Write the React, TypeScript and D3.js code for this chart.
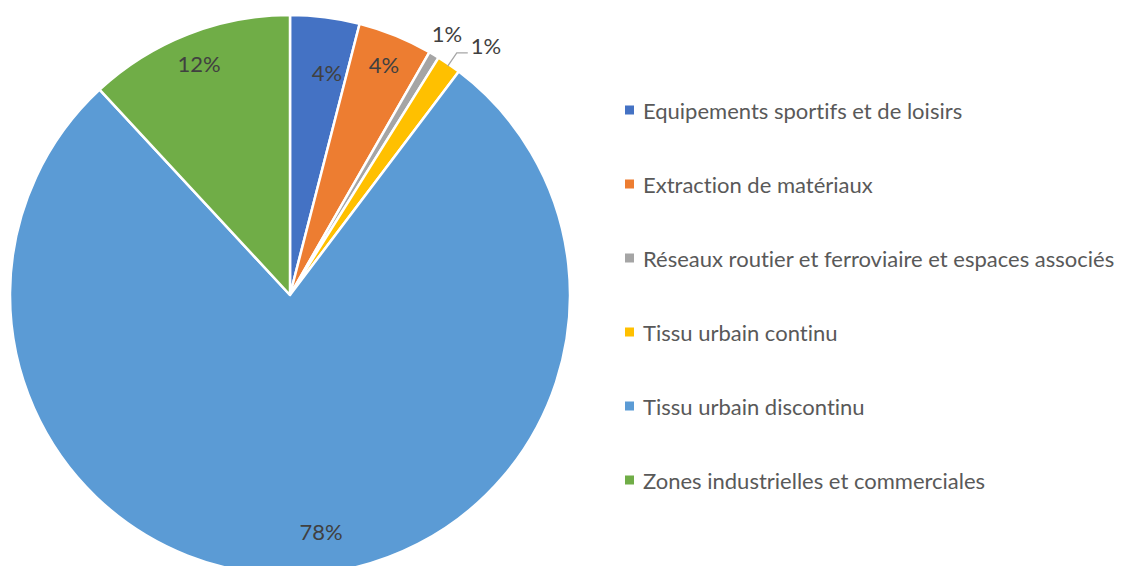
import React from "react";
import * as d3 from "d3";

const categories = [
  "Equipements sportifs et de loisirs",
  "Extraction de matériaux",
  "Réseaux routier et ferroviaire et espaces associés",
  "Tissu urbain continu",
  "Tissu urbain discontinu",
  "Zones industrielles et commerciales",
];
const values = [4.0, 4.3, 0.6, 1.4, 77.8, 11.9];
const colors = ["#4472C4", "#ED7D31", "#A5A5A5", "#FFC000", "#5B9BD5", "#70AD47"];

const W = 1123;
const H = 566;
const CX = 290;
const CY = 295;
const R = 280;
const FONT = "Lato, 'Open Sans', sans-serif";
const FS = 22;
const TEXT_STYLE: React.CSSProperties = {
  fontVariantLigatures: "none",
  fontFeatureSettings: '"liga" 0, "clig" 0, "dlig" 0',
};

export default function App() {
  const total = d3.sum(values);
  const pie = d3.pie<number>().sort(null).value((d) => d)(values);
  const arc = d3.arc<d3.PieArcDatum<number>>().innerRadius(0).outerRadius(R);
  const fmt = (v: number) => d3.format(".0%")(v / total);
  const labelFactor = [0.8, 0.89, 1.09, 1.2, 0.86, 0.89];
  const labelDx = [9, 0, 0, 0, 19, 0];
  const labelDy = [0, 0, 0, 0, -4, 0];

  const legendX = 625;
  const legendY0 = 110;
  const legendStep = 74;

  return (
    <svg width={W} height={H} style={{ position: "absolute", left: 0, top: 0, background: "#fff" }}>
      <g transform={`translate(${CX},${CY})`}>
        {pie.map((p, i) => (
          <path key={i} d={arc(p) || ""} fill={colors[i]} stroke="#fff" strokeWidth={2.5} strokeLinejoin="round" />
        ))}
        {pie.map((p, i) => {
          const a = (p.startAngle + p.endAngle) / 2;
          const r = R * labelFactor[i];
          if (i === 3) {
            const x0 = Math.sin(a) * (R - 2);
            const y0 = -Math.cos(a) * (R - 2);
            const x1 = Math.sin(a) * (R + 14);
            const y1 = -Math.cos(a) * (R + 14);
            const x2 = x1 + 11;
            return (
              <g key={i}>
                <polyline points={`${x0},${y0} ${x1},${y1} ${x2},${y1}`} fill="none" stroke="#A6A6A6" strokeWidth={1.3} />
                <text x={x2 + 3} y={y1 - 7} fontSize={FS} fill="#404040" fontFamily={FONT} dominantBaseline="central" style={TEXT_STYLE}>
                  {fmt(values[i])}
                </text>
              </g>
            );
          }
          const x = Math.sin(a) * r + labelDx[i];
          const y = -Math.cos(a) * r + labelDy[i];
          return (
            <text key={i} x={x} y={y} fontSize={FS} fill="#404040" fontFamily={FONT} textAnchor="middle" dominantBaseline="central" style={TEXT_STYLE}>
              {fmt(values[i])}
            </text>
          );
        })}
      </g>
      <g>
        {categories.map((c, i) => (
          <g key={c} transform={`translate(${legendX},${legendY0 + i * legendStep})`}>
            <rect x={0} y={-4.5} width={9} height={9} fill={colors[i]} />
            <text x={18} y={0} fontSize={FS} fill="#595959" fontFamily={FONT} dominantBaseline="central" style={TEXT_STYLE}>
              {c}
            </text>
          </g>
        ))}
      </g>
    </svg>
  );
}
